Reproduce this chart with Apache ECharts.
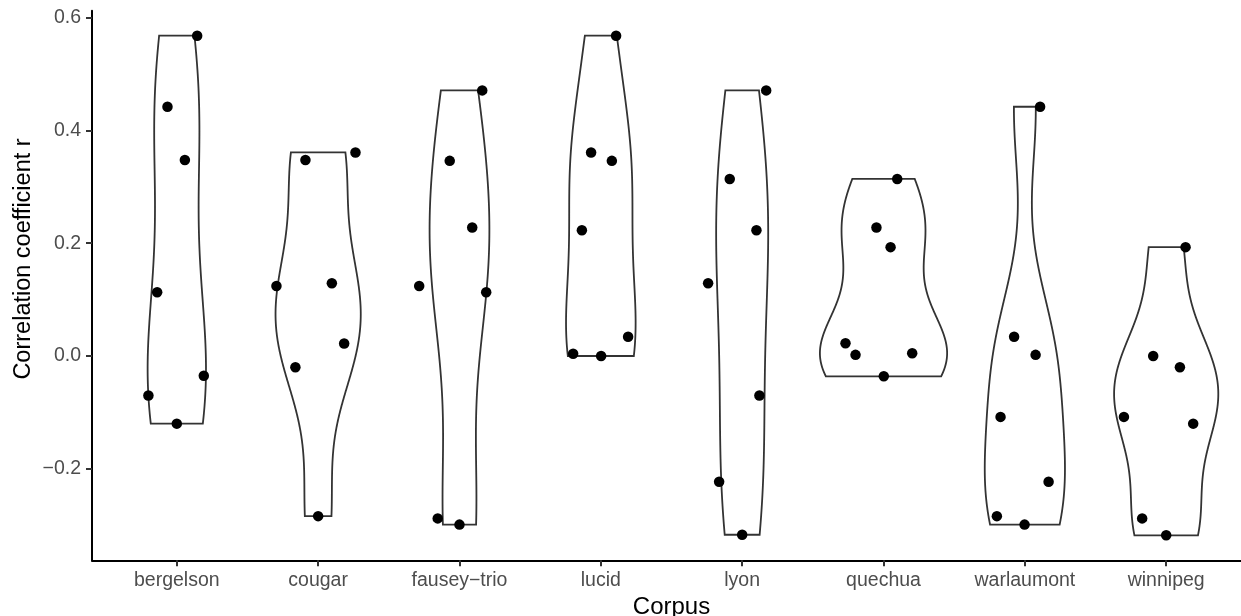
<!DOCTYPE html>
<html>
<head>
<meta charset="utf-8">
<script src="https://cdn.jsdelivr.net/npm/echarts@6/dist/echarts.min.js"></script>
<style>
html,body{margin:0;padding:0;background:#fff;}
#chart{width:1241px;height:616px;}
</style>
</head>
<body>
<div id="chart"></div>
<script>
// ---- data ----
const categories = ['bergelson','cougar','fausey\u2212trio','lucid','lyon','quechua','warlaumont','winnipeg'];
const rBergelson  = [0.568, 0.442, 0.3475, 0.113, -0.070, -0.035, -0.120];
const rCougar     = [0.361, 0.3475, 0.124, 0.129, 0.022, -0.020, -0.284];
const rFausey     = [0.471, 0.346, 0.228, 0.124, 0.113, -0.288, -0.299];
const rLucid      = [0.568, 0.361, 0.346, 0.223, 0.034, 0.004, 0.000];
const rLyon       = [0.471, 0.314, 0.223, 0.129, -0.070, -0.223, -0.317];
const rQuechua    = [0.314, 0.228, 0.193, 0.0225, 0.002, 0.005, -0.036];
const rWarlaumont = [0.442, 0.034, 0.002, -0.108, -0.223, -0.284, -0.299];
const rWinnipeg   = [0.193, 0.000, -0.020, -0.108, -0.120, -0.288, -0.318];
// horizontal jitter (in category units)
const jBergelson  = [0.144, -0.066, 0.057, -0.139, -0.201, 0.191, 0.000];
const jCougar     = [0.264, -0.090, -0.295, 0.097, 0.184, -0.161, 0.000];
const jFausey     = [0.161, -0.069, 0.090, -0.285, 0.189, -0.154, 0.000];
const jLucid      = [0.108, -0.069, 0.078, -0.134, 0.193, -0.196, 0.002];
const jLyon       = [0.170, -0.088, 0.101, -0.241, 0.122, -0.163, 0.000];
const jQuechua    = [0.097, -0.050, 0.050, -0.269, -0.198, 0.203, 0.002];
const jWarlaumont = [0.108, -0.076, 0.076, -0.172, 0.168, -0.198, -0.002];
const jWinnipeg   = [0.137, -0.092, 0.097, -0.299, 0.191, -0.170, 0.000];
const yTicks = [-0.2, 0.0, 0.2, 0.4, 0.6];
const xTitle = 'Corpus';
const yTitle = 'Correlation coefficient r';

const groups = [rBergelson,rCougar,rFausey,rLucid,rLyon,rQuechua,rWarlaumont,rWinnipeg];
const jitters = [jBergelson,jCougar,jFausey,jLucid,jLyon,jQuechua,jWarlaumont,jWinnipeg];

// ---- kernel density (ggplot2 geom_violin style: trim, scale="area", width 0.9) ----
function quantile7(sorted, p){
  const h=(sorted.length-1)*p, lo=Math.floor(h);
  return lo+1<sorted.length ? sorted[lo]+(h-lo)*(sorted[lo+1]-sorted[lo]) : sorted[lo];
}
function bwNrd0(x){
  const n=x.length, m=x.reduce((a,b)=>a+b,0)/n;
  const sd=Math.sqrt(x.reduce((a,b)=>a+(b-m)*(b-m),0)/(n-1));
  const s=[...x].sort((a,b)=>a-b);
  const iqr=quantile7(s,0.75)-quantile7(s,0.25);
  const lo=Math.min(sd, iqr/1.34) || sd;
  return 0.9*lo*Math.pow(n,-0.2);
}
const NPTS=512;
const dens = groups.map(g=>{
  const bw=bwNrd0(g), mn=Math.min(...g), mx=Math.max(...g);
  const ys=[], ds=[];
  for(let k=0;k<NPTS;k++){
    const y=mn+(mx-mn)*k/(NPTS-1);
    let s=0; for(const v of g){const z=(y-v)/bw; s+=Math.exp(-0.5*z*z);}
    ys.push(y); ds.push(s/(g.length*bw*Math.sqrt(2*Math.PI)));
  }
  return {ys, ds};
});
const maxD = Math.max(...dens.map(d=>Math.max(...d.ds)));

const allVals = groups.flat();
const dMin=Math.min(...allVals), dMax=Math.max(...allVals), ex=(dMax-dMin)*0.05;

const pointData=[];
groups.forEach((g,i)=>g.forEach((v,k)=>pointData.push([i+1+jitters[i][k], v])));

const FONT='"Liberation Sans", Arial, Helvetica, sans-serif';
const chart = echarts.init(document.getElementById('chart'), null, {renderer:'canvas'});
chart.setOption({
  animation:false,
  backgroundColor:'#ffffff',
  grid:{left:92, right:-10, top:10.7, bottom:55.7, containLabel:false, outerBoundsMode:'none'},
  graphic:[{
    type:'text', x:24, y:259, rotation:Math.PI/2,
    style:{text:yTitle, fill:'#000', font:'23.5px '+FONT, textAlign:'center', textVerticalAlign:'middle'}
  }],
  xAxis:{
    type:'value', min:0.4, max:8.6,
    name:xTitle, nameLocation:'middle', nameGap:26,
    nameTextStyle:{color:'#000', fontSize:24, fontFamily:FONT},
    axisLine:{show:true, onZero:false, lineStyle:{color:'#000', width:2}},
    axisTick:{show:true, length:6, customValues:[1,2,3,4,5,6,7,8], lineStyle:{color:'#333', width:2}},
    axisLabel:{customValues:[1,2,3,4,5,6,7,8], formatter:v=>categories[Math.round(v)-1]||'',
      color:'#4D4D4D', fontSize:19.5, fontFamily:FONT, margin:10},
    splitLine:{show:false}
  },
  yAxis:{
    type:'value', min:dMin-ex, max:dMax+ex,
    axisLine:{show:true, onZero:false, lineStyle:{color:'#000', width:2}},
    axisTick:{show:true, length:6, customValues:yTicks, lineStyle:{color:'#333', width:2}},
    axisLabel:{customValues:yTicks, formatter:v=>{const s=Math.abs(v).toFixed(1); return v< -1e-9 ? '\u2212'+s : s;},
      color:'#4D4D4D', fontSize:19.5, fontFamily:FONT, margin:11},
    splitLine:{show:false}
  },
  series:[
    {
      type:'custom',
      data:categories.map((c,i)=>[i+1]),
      renderItem:(params, api)=>{
        const i=params.dataIndex, d=dens[i], x=i+1;
        const pts=[];
        for(let k=0;k<NPTS;k++){ pts.push(api.coord([x-0.45*d.ds[k]/maxD, d.ys[k]])); }
        for(let k=NPTS-1;k>=0;k--){ pts.push(api.coord([x+0.45*d.ds[k]/maxD, d.ys[k]])); }
        return {type:'polygon', shape:{points:pts}, style:{fill:'#ffffff', stroke:'#333333', lineWidth:1.8}};
      },
      z:1
    },
    {
      type:'scatter',
      data:pointData,
      symbol:'circle', symbolSize:10.5,
      itemStyle:{color:'#000000', opacity:1},
      z:3
    }
  ]
});
</script>
</body>
</html>
